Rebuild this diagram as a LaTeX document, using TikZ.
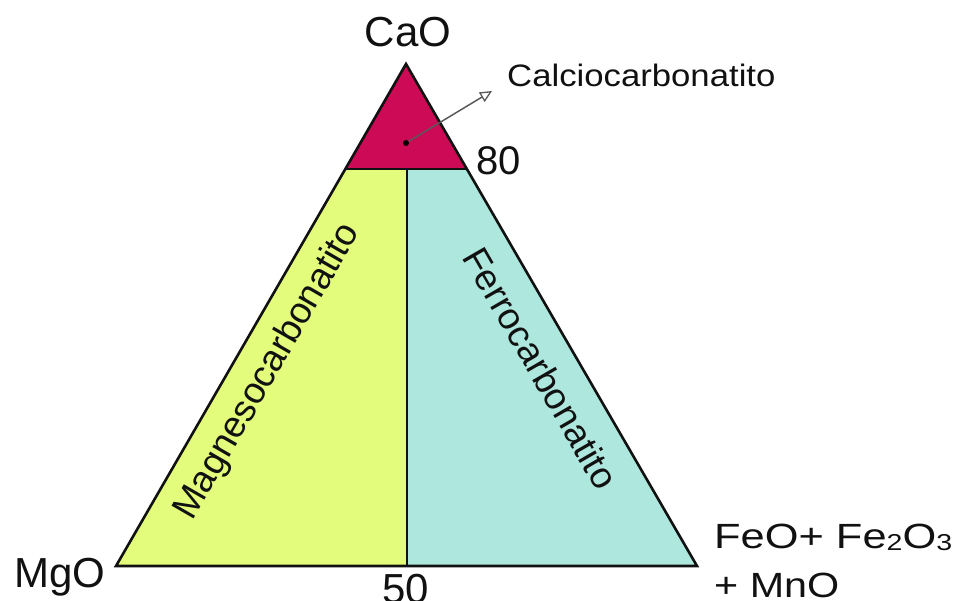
\documentclass[tikz,border=0pt]{standalone}
\usepackage{fontspec}
\usepackage{graphicx}
\setmainfont{Liberation Sans}
\usetikzlibrary{arrows.meta}
\definecolor{calc}{HTML}{CC0A55}
\definecolor{magn}{HTML}{E4FC7C}
\definecolor{ferr}{HTML}{AEE7DD}
\definecolor{ink}{HTML}{111111}
\newcommand{\lowsub}[1]{\raisebox{-2pt}{\fontsize{23}{23}\selectfont #1}}
\tikzset{
  lbl/.style={inner sep=0pt, text=ink},
  big/.style={lbl, font=\fontsize{42}{48}\selectfont},
  rot/.style={lbl, font=\fontsize{37}{42}\selectfont},
  edge/.style={draw=ink, line width=2.6pt, line join=miter},
  divider/.style={draw=ink, line width=2pt},
}
\begin{document}
\begin{tikzpicture}[x=1pt, y=-1pt]
\useasboundingbox (0,0) rectangle (963,601);
% vertices
\coordinate (top) at (406,64);
\coordinate (left) at (116,566);
\coordinate (right) at (697,566);
\coordinate (l80) at (346,169);
\coordinate (r80) at (467,169);
\coordinate (m80) at (407,169);
\coordinate (m50) at (407,566);
% fills
\fill[calc] (top) -- (l80) -- (r80) -- cycle;
\fill[magn] (l80) -- (m80) -- (m50) -- (left) -- cycle;
\fill[ferr] (m80) -- (r80) -- (right) -- (m50) -- cycle;
% dividers
\draw[divider] (l80) -- (r80);
\draw[divider] (m80) -- (m50);
% outline
\draw[edge] (top) -- (left) -- (right) -- cycle;
% calcio marker and arrow
\node[circle, fill=black, inner sep=0pt, minimum size=6pt] (dot) at (406,143) {};
\coordinate (tip) at (492,91);
\draw[black!65, line width=1.5pt, -{Triangle[open, length=12pt, width=11pt, line width=1.3pt]}] (dot) -- (tip);
% labels
\node[big, anchor=base] (cao) at (408,47) {CaO};
\node[lbl, anchor=base west, font=\fontsize{31}{36}\selectfont] (calclbl) at (507,87) {\scalebox{1.12}[1]{Calciocarbonatito}};
\node[big, anchor=base west, font=\fontsize{40}{46}\selectfont] (n80) at (476,175) {80};
\node[big, anchor=base] (n50) at (406,603) {50};
\node[big, anchor=base west] (mgo) at (14,587) {MgO};
\node[lbl, anchor=base west, font=\fontsize{35}{42}\selectfont] (fe1) at (714,548) {\scalebox{1.24}[1]{FeO+ Fe\lowsub{2}O\lowsub{3}}};
\node[lbl, anchor=base west, font=\fontsize{35}{42}\selectfont] (fe2) at (714,597) {\scalebox{1.18}[1]{+ MnO}};
\node[rot, rotate=60] (mglbl) at (268,372) {Magnesocarbonatito};
\node[rot, rotate=-60] (felbl) at (541,368) {Ferrocarbonatito};
\end{tikzpicture}
\end{document}
